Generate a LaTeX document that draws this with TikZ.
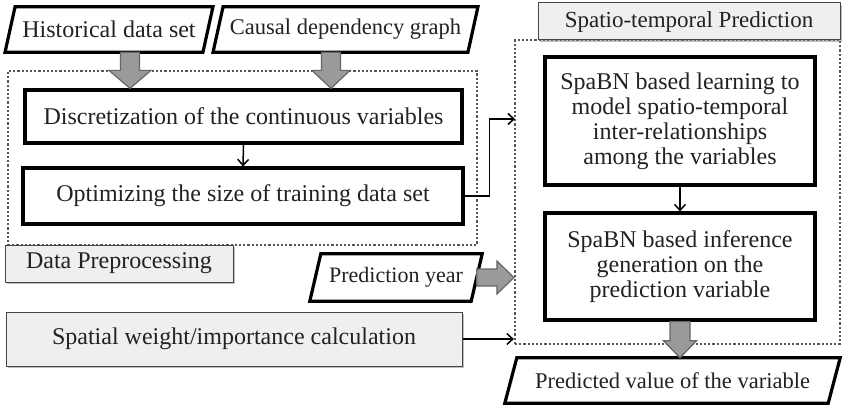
\documentclass[tikz,border=0pt]{standalone}
\usepackage{fontspec}
\setmainfont{Liberation Serif}
\usetikzlibrary{arrows.meta,calc,shadows}

\definecolor{inkc}{HTML}{222222}
\definecolor{panelc}{HTML}{EFEFEF}
\definecolor{dotc}{HTML}{555555}
\definecolor{blockc}{HTML}{9A9A9A}
\definecolor{blockedge}{HTML}{666666}

% slanted data box drawn round a named node; #2 = horizontal slant of the top edge
\newcommand\slantbox[2]{%
  \draw[slantline] ($(#1.south west)+(-#2/2,0)$) -- ($(#1.north west)+(#2/2,0)$)
    -- ($(#1.north east)+(#2/2,0)$) -- ($(#1.south east)+(-#2/2,0)$) -- cycle;}
% broad arrow pointing down: start, tip, shaft half width, head half width, head length
\newcommand\downblock[5]{%
  \draw[blockarrow] ($(#1)+(-#3pt,0pt)$) -- ($(#2)+(-#3pt,#5pt)$) -- ($(#2)+(-#4pt,#5pt)$)
    -- (#2) -- ($(#2)+(#4pt,#5pt)$) -- ($(#2)+(#3pt,#5pt)$) -- ($(#1)+(#3pt,0pt)$) -- cycle;}
% broad arrow pointing right
\newcommand\rightblock[5]{%
  \draw[blockarrow] ($(#1)+(0pt,#3pt)$) -- ($(#2)+(-#5pt,#3pt)$) -- ($(#2)+(-#5pt,#4pt)$)
    -- (#2) -- ($(#2)+(-#5pt,-#4pt)$) -- ($(#2)+(-#5pt,-#3pt)$) -- ($(#1)+(0pt,-#3pt)$) -- cycle;}

\tikzset{
  every node/.style={text=inkc, inner sep=0pt},
  stepbox/.style={draw=black, line width=3.2pt, fill=white, align=center},
  slantline/.style={draw=black, line width=3.2pt, fill=white, line join=miter},
  datatext/.style={align=center},
  panel/.style={draw=dotc!80!black, line width=1pt, fill=panelc,
    drop shadow={shadow xshift=2pt, shadow yshift=-2pt, fill=black!45, opacity=0.55}},
  group/.style={draw=dotc, line width=2.2pt, dash pattern=on 2.2pt off 2pt},
  conn/.style={draw=black, line width=1.5pt, -{Straight Barb[length=6pt,width=11pt,line width=1.5pt]}},
  blockarrow/.style={fill=blockc, draw=blockedge, line width=1.2pt, line join=miter},
}

\begin{document}
\begin{tikzpicture}[x=1pt, y=-1pt, font=\fontsize{24}{25}\selectfont]
\useasboundingbox (0,0) rectangle (843,409);
\fill[white] (0,0) rectangle (843,409);

% dotted group frames
\node[group, minimum width=469pt, minimum height=174pt] (prebox) at (242.5,158) {};
\node[group, minimum width=325pt, minimum height=304pt] (stbox) at (677.5,192) {};

% group captions
\node[panel, minimum width=228pt, minimum height=37pt] (prelabel) at (119,263.5) {Data Preprocessing};
\node[panel, minimum width=302pt, minimum height=37pt, font=\fontsize{23}{25}\selectfont] (stlabel) at (689,21.5) {Spatio-temporal Prediction};
\node[panel, minimum width=456pt, minimum height=54pt] (spw) at (234,339) {Spatial weight/importance calculation};

% inputs and output
\node[datatext, minimum width=197.5pt, minimum height=45pt] (hist) at (109,29.5) {};
\slantbox{hist}{10}
\node at (hist) {Historical data set};
\node[datatext, minimum width=254.5pt, minimum height=45pt] (causal) at (345.5,29.5) {};
\slantbox{causal}{10}
\node[font=\fontsize{22.5}{25}\selectfont] at (causal) {Causal dependency graph};
\node[datatext, minimum width=161pt, minimum height=47pt] (py) at (396,277.5) {};
\slantbox{py}{11}
\node[font=\fontsize{22}{25}\selectfont] at (py) {Prediction year};
\node[datatext, minimum width=323pt, minimum height=45pt] (pred) at (672.5,380.5) {};
\slantbox{pred}{12}
\node[font=\fontsize{22.5}{25}\selectfont] at (pred) {Predicted value of the variable};

% processing steps
\node[stepbox, minimum width=437pt, minimum height=53pt] (disc) at (243.5,116.5) {Discretization of the continuous variables};
\node[stepbox, minimum width=440pt, minimum height=56pt] (opt) at (243,196) {Optimizing the size of training data set};
\node[stepbox, minimum width=270pt, minimum height=128pt] (learn) at (680,121)
  {SpaBN based learning to\\model spatio-temporal\\inter-relationships\\among the variables};
\node[stepbox, minimum width=270pt, minimum height=107pt] (inf) at (680,266.5)
  {SpaBN based inference\\generation on the\\prediction variable};

% thin connectors
\coordinate (tin) at (515,119);
\draw[conn] (disc.south) -- (opt.north);
\draw[conn] (learn.south) -- (inf.north);
\draw[conn] (opt.east) -- ++(25,0) |- (tin);
\draw[conn] (spw.east) -- (spw.east -| stbox.west);

% broad arrows
\coordinate (h1) at ($(hist.south)+(21,0)$);
\coordinate (c1) at ($(causal.south)+(-14.5,0)$);
\downblock{h1}{disc.north -| h1}{9.5}{21}{18}
\downblock{c1}{disc.north -| c1}{9.5}{19}{18}
\rightblock{py.east}{py.east -| stbox.west}{8.5}{16.5}{17}
\downblock{inf.south}{pred.north -| inf.south}{10}{16.5}{17}
\end{tikzpicture}
\end{document}
